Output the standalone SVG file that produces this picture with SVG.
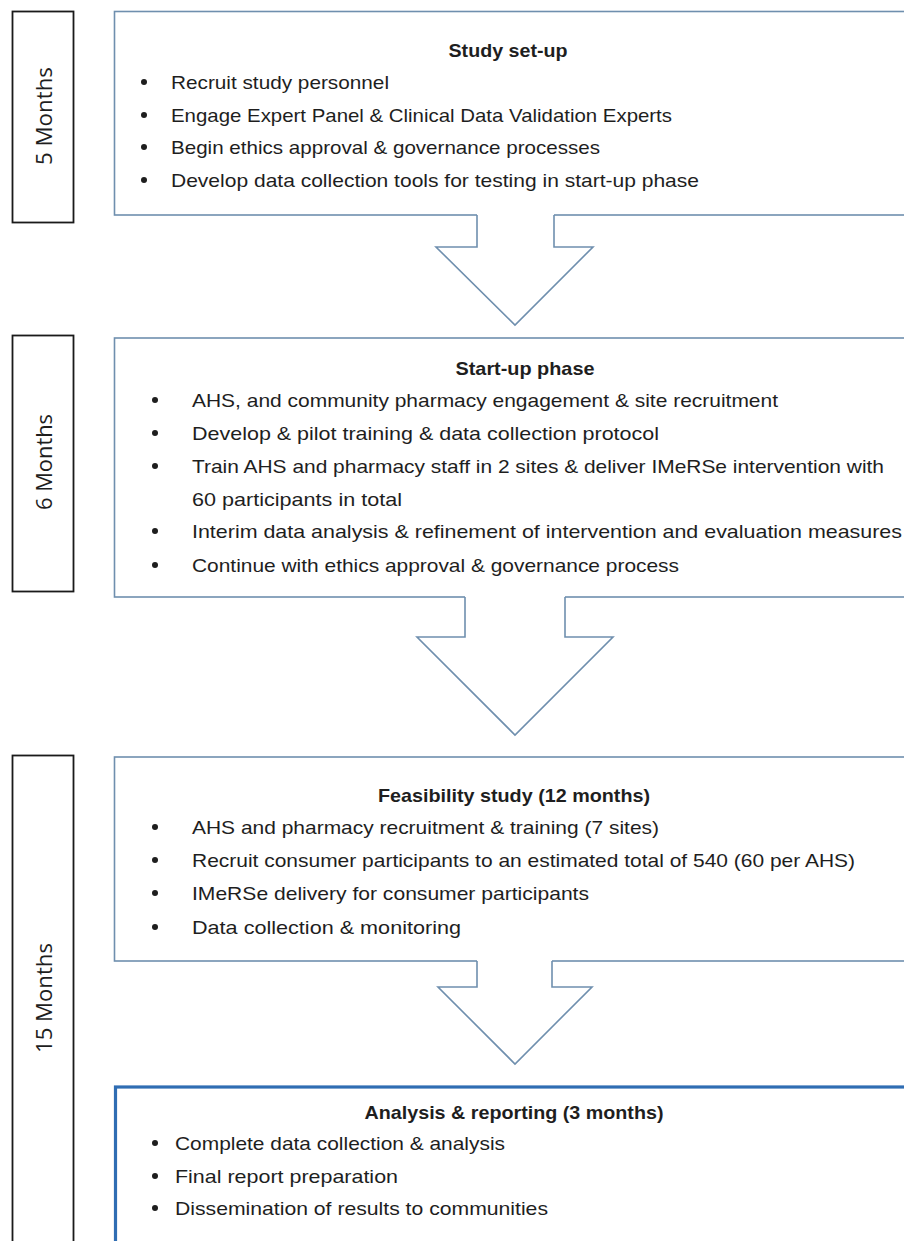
<svg xmlns="http://www.w3.org/2000/svg" width="904" height="1241" viewBox="0 0 904 1241">
<style>
.bg{fill:#ffffff}
.box{fill:#ffffff;stroke:#6f8fae;stroke-width:1.6}
.box4{fill:#ffffff;stroke:#2f6db3;stroke-width:3.2}
.time{fill:#ffffff;stroke:#1a1a1a;stroke-width:1.8}
.t{font-family:"Liberation Sans",Arial,sans-serif;font-size:19px;fill:#1e1e1e}
.h{font-family:"Liberation Sans",Arial,sans-serif;font-size:19px;font-weight:bold;fill:#1e1e1e}
.m{font-family:"Open Sans","Liberation Sans",sans-serif;font-size:21px;fill:#1e1e1e}
.b{fill:#1e1e1e}
.afill{fill:#ffffff;stroke:none}
.aline{fill:none;stroke:#6f8fae;stroke-width:1.6;stroke-linejoin:miter}
</style>
<rect class="bg" x="0" y="0" width="904" height="1241"/>

<g id="time-5">
<rect class="time" x="12.5" y="11.5" width="61" height="211"/>
<text class="m" transform="translate(52,116) rotate(-90)" text-anchor="middle" textLength="98" lengthAdjust="spacingAndGlyphs">5 Months</text>
</g>
<g id="time-6">
<rect class="time" x="12.5" y="335.5" width="61" height="256"/>
<text class="m" transform="translate(52,462) rotate(-90)" text-anchor="middle" textLength="96" lengthAdjust="spacingAndGlyphs">6 Months</text>
</g>
<g id="time-15">
<rect class="time" x="12.5" y="755.5" width="61" height="500"/>
<text class="m" transform="translate(52,998) rotate(-90)" text-anchor="middle" textLength="110" lengthAdjust="spacingAndGlyphs">15 Months</text>
</g>

<g id="study-setup">
<rect class="box" x="114.5" y="11.5" width="800" height="203.5"/>
<text class="h" x="508" y="57" text-anchor="middle" textLength="119" lengthAdjust="spacingAndGlyphs">Study set-up</text>
<circle class="b" cx="144" cy="82" r="3"/>
<text class="t" x="171" y="89" textLength="218" lengthAdjust="spacingAndGlyphs">Recruit study personnel</text>
<circle class="b" cx="144" cy="115" r="3"/>
<text class="t" x="171" y="122" textLength="501" lengthAdjust="spacingAndGlyphs">Engage Expert Panel &amp; Clinical Data Validation Experts</text>
<circle class="b" cx="144" cy="147" r="3"/>
<text class="t" x="171" y="154" textLength="429" lengthAdjust="spacingAndGlyphs">Begin ethics approval &amp; governance processes</text>
<circle class="b" cx="144" cy="180" r="3"/>
<text class="t" x="171" y="187" textLength="528" lengthAdjust="spacingAndGlyphs">Develop data collection tools for testing in start-up phase</text>
</g>

<g id="startup-phase">
<rect class="box" x="114.5" y="338" width="800" height="259"/>
<text class="h" x="525" y="375" text-anchor="middle" textLength="139" lengthAdjust="spacingAndGlyphs">Start-up phase</text>
<circle class="b" cx="155" cy="400" r="3"/>
<text class="t" x="192" y="407" textLength="586" lengthAdjust="spacingAndGlyphs">AHS, and community pharmacy engagement &amp; site recruitment</text>
<circle class="b" cx="155" cy="433" r="3"/>
<text class="t" x="192" y="440" textLength="467" lengthAdjust="spacingAndGlyphs">Develop &amp; pilot training &amp; data collection protocol</text>
<circle class="b" cx="155" cy="466" r="3"/>
<text class="t" x="192" y="473" textLength="692" lengthAdjust="spacingAndGlyphs">Train AHS and pharmacy staff in 2 sites &amp; deliver IMeRSe intervention with</text>
<text class="t" x="192" y="506" textLength="210" lengthAdjust="spacingAndGlyphs">60 participants in total</text>
<circle class="b" cx="155" cy="531" r="3"/>
<text class="t" x="192" y="538" textLength="710" lengthAdjust="spacingAndGlyphs">Interim data analysis &amp; refinement of intervention and evaluation measures</text>
<circle class="b" cx="155" cy="565" r="3"/>
<text class="t" x="192" y="572" textLength="487" lengthAdjust="spacingAndGlyphs">Continue with ethics approval &amp; governance process</text>
</g>

<g id="feasibility-study">
<rect class="box" x="114.5" y="757" width="800" height="204"/>
<text class="h" x="514" y="802" text-anchor="middle" textLength="272" lengthAdjust="spacingAndGlyphs">Feasibility study (12 months)</text>
<circle class="b" cx="155" cy="827" r="3"/>
<text class="t" x="192" y="834" textLength="467" lengthAdjust="spacingAndGlyphs">AHS and pharmacy recruitment &amp; training (7 sites)</text>
<circle class="b" cx="155" cy="860" r="3"/>
<text class="t" x="192" y="867" textLength="663" lengthAdjust="spacingAndGlyphs">Recruit consumer participants to an estimated total of 540 (60 per AHS)</text>
<circle class="b" cx="155" cy="893" r="3"/>
<text class="t" x="192" y="900" textLength="397" lengthAdjust="spacingAndGlyphs">IMeRSe delivery for consumer participants</text>
<circle class="b" cx="155" cy="927" r="3"/>
<text class="t" x="192" y="934" textLength="269" lengthAdjust="spacingAndGlyphs">Data collection &amp; monitoring</text>
</g>

<g id="analysis-reporting">
<rect class="box4" x="115.5" y="1087" width="800" height="170"/>
<text class="h" x="514" y="1119" text-anchor="middle" textLength="299" lengthAdjust="spacingAndGlyphs">Analysis &amp; reporting (3 months)</text>
<circle class="b" cx="155" cy="1143" r="3"/>
<text class="t" x="175" y="1150" textLength="330" lengthAdjust="spacingAndGlyphs">Complete data collection &amp; analysis</text>
<circle class="b" cx="155" cy="1176" r="3"/>
<text class="t" x="175" y="1183" textLength="223" lengthAdjust="spacingAndGlyphs">Final report preparation</text>
<circle class="b" cx="155" cy="1208" r="3"/>
<text class="t" x="175" y="1215" textLength="373" lengthAdjust="spacingAndGlyphs">Dissemination of results to communities</text>
</g>

<g id="connectors">
<g id="arrow-1">
<path class="afill" d="M477,212 L477,247 L436,247 L515,325 L593,247 L554,247 L554,212 Z"/>
<polyline class="aline" points="477,215 477,247 436,247 515,325 593,247 554,247 554,215"/>
</g>
<g id="arrow-2">
<path class="afill" d="M465,594 L465,637 L417,637 L515,735 L613,637 L565,637 L565,594 Z"/>
<polyline class="aline" points="465,597 465,637 417,637 515,735 613,637 565,637 565,597"/>
</g>
<g id="arrow-3">
<path class="afill" d="M477,958 L477,987 L438,987 L515,1064 L592,987 L552,987 L552,958 Z"/>
<polyline class="aline" points="477,961 477,987 438,987 515,1064 592,987 552,987 552,961"/>
</g>
</g>
</svg>
